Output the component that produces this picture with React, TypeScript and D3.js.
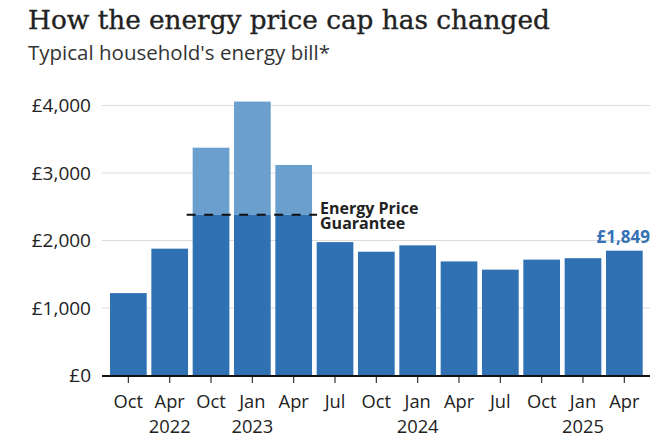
import React from "react";
import * as d3 from "d3";

const periods = ["Oct 2021", "Apr 2022", "Oct 2022", "Jan 2023", "Apr 2023", "Jul 2023", "Oct 2023", "Jan 2024", "Apr 2024", "Jul 2024", "Oct 2024", "Jan 2025", "Apr 2025"];
const monthLabels = ["Oct", "Apr", "Oct", "Jan", "Apr", "Jul", "Oct", "Jan", "Apr", "Jul", "Oct", "Jan", "Apr"];
const yearLabels = ["", "2022", "", "2023", "", "", "", "2024", "", "", "", "2025", ""];
const capValues = [1221, 1879, 3375, 4058, 3119, 1976, 1834, 1928, 1690, 1568, 1717, 1738, 1849];
const guaranteePeriods = ["Oct 2022", "Jan 2023", "Apr 2023"];
const guaranteeLevel = 2380;
const yTicks = [0, 1000, 2000, 3000, 4000];

const W = 671;
const H = 440;

export default function App() {
  const x = d3.scaleBand<string>().domain(periods).range([107.7, 645]).paddingInner(0.112).paddingOuter(0.056);
  const y = d3.scaleLinear().domain([0, 4000]).range([375.5, 105.5]);
  const bw = x.bandwidth();
  const fmt = (v: number) => "£" + d3.format(",")(v);
  const sans = "'Open Sans', 'Noto Sans', sans-serif";
  const dark = "#2f71b3";
  const light = "#6a9fce";
  const lastVal = capValues[capValues.length - 1];
  const gStart = (x(guaranteePeriods[0]) as number) - 6;
  const gEnd = (x(guaranteePeriods[guaranteePeriods.length - 1]) as number) + bw + 5;

  return (
    <svg width={W} height={H} style={{ position: "absolute", left: 0, top: 0, background: "#fff" }}>
      <rect width={W} height={H} fill="#fff" />
      <text x={28} y={28.5} fontFamily="'DejaVu Serif', serif" fontSize={26.3} fill="#222" stroke="#222" strokeWidth={0.35}>How the energy price cap has changed</text>
      <text x={28} y={60} fontFamily={sans} fontSize={20.5} fill="#333">Typical household's energy bill*</text>

      {yTicks.map((t) => (
        <g key={t}>
          {t > 0 && <line x1={102} x2={650} y1={y(t)} y2={y(t)} stroke="#dcdcdc" strokeWidth={1} />}
          <text x={91} y={y(t)} dy="0.36em" textAnchor="end" fontFamily={sans} fontSize={19} fill="#222">{fmt(t)}</text>
        </g>
      ))}

      {periods.map((p, i) => {
        const v = capValues[i];
        const guaranteed = guaranteePeriods.includes(p);
        const paid = guaranteed ? Math.min(v, guaranteeLevel) : v;
        return (
          <g key={p}>
            {guaranteed && (
              <rect x={x(p)} y={y(v)} width={bw} height={y(paid) - y(v)} fill={light} />
            )}
            <rect x={x(p)} y={y(paid)} width={bw} height={y(0) - y(paid)} fill={dark} />
          </g>
        );
      })}

      <line x1={gStart} x2={gEnd} y1={y(guaranteeLevel)} y2={y(guaranteeLevel)} stroke="#111" strokeWidth={2} strokeDasharray="9,8.5" />
      <text fontFamily={sans} fontSize={16} fontWeight={700} fill="#222">
        <tspan x={gEnd + 3} y={213.5}>Energy Price</tspan>
        <tspan x={gEnd + 3} y={229}>Guarantee</tspan>
      </text>

      <text x={650} y={243} textAnchor="end" fontFamily={sans} fontSize={17} fontWeight={700} fill="#3572b3">{fmt(lastVal)}</text>

      <line x1={102} x2={650} y1={376} y2={376} stroke="#111" strokeWidth={2} />
      {periods.map((p, i) => {
        const cx = (x(p) as number) + bw / 2;
        return (
          <g key={"t" + p}>
            <line x1={cx} x2={cx} y1={377} y2={383} stroke="#333" strokeWidth={1.2} />
            <text textAnchor="middle" fontFamily={sans} fontSize={18.3} fill="#222">
              <tspan x={cx} y={407.5}>{monthLabels[i]}</tspan>
              {yearLabels[i] && <tspan x={cx} y={432.5}>{yearLabels[i]}</tspan>}
            </text>
          </g>
        );
      })}
    </svg>
  );
}
